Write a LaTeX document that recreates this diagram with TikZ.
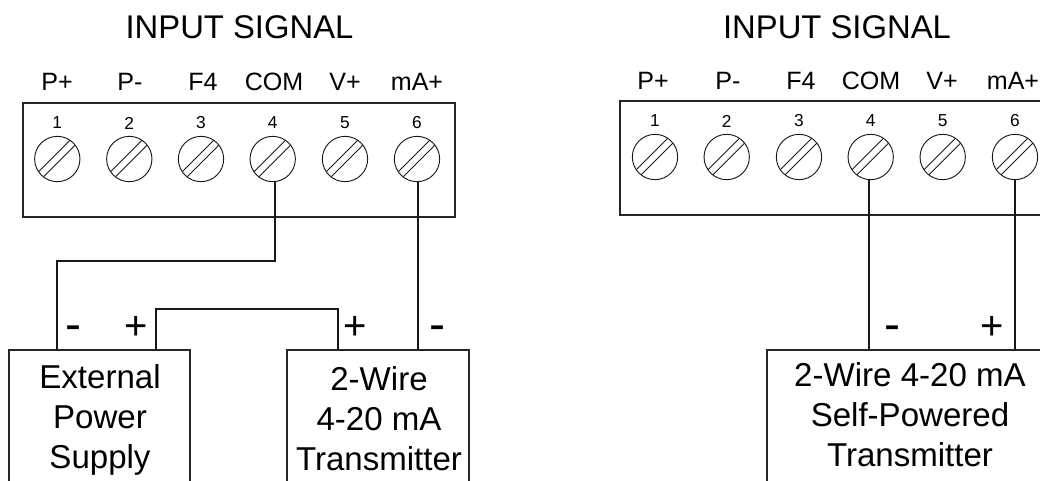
\documentclass[tikz,border=0pt]{standalone}
\usepackage{fontspec}
\setmainfont{Liberation Sans}
\tikzset{
  x=0.75pt,y=-0.75pt,
  every node/.style={inner sep=0pt,outer sep=0pt,text=black},
  title/.style={font=\fontsize{24.6pt}{28pt}\selectfont},
  termlabel/.style={font=\fontsize{18.8pt}{22pt}\selectfont},
  termnum/.style={font=\fontsize{13pt}{15pt}\selectfont},
  devtext/.style={font=\fontsize{24.8pt}{30pt}\selectfont,align=center},
  polarity/.style={font=\fontsize{30pt}{32pt}\selectfont},
  minussign/.style={font=\fontsize{36pt}{38pt}\selectfont},
  panel/.style={draw=black!85,line width=1.6pt,rectangle},
  devbox/.style={draw=black!85,line width=1.6pt,rectangle},
  wire/.style={draw=black!90,line width=0.9pt},
  screw/.style={draw=black!90,line width=0.7pt,circle,minimum size=34pt},
  slot/.style={line width=0.7pt,black!90},
}
\begin{document}
\begin{tikzpicture}
\useasboundingbox (0,0) rectangle (1040,480);
\clip (0,0) rectangle (1040,480);
% left
\node[title] (t1) at (239.5,27.5) {INPUT SIGNAL};
\node[panel,minimum width=324pt,minimum height=85.5pt] (p1) at (239,160) {};
\foreach \n/\x/\lx/\l in {1/57.3/57/P+,2/129.3/130/P-,3/201/203/F4,4/272.7/274/COM,5/345/345/V+,6/417/417/mA+}{
  \node[termlabel] (la\n) at (\lx,82) {\l};
  \node[termnum] (na\n) at (\x,123) {\n};
  \node[screw] (sa\n) at (\x,159) {};
  \begin{scope}
    \clip (\x,159) circle (22.5);
    \draw[slot] (\x-24,159+18) -- (\x+24,159-30);
    \draw[slot] (\x-20,159+24) -- (\x+24,159-20);
  \end{scope}
}
\node[devbox,minimum width=135.75pt,minimum height=120pt] (ps) at (99.5,430) {};
\node[devbox,minimum width=136.5pt,minimum height=120pt] (tx) at (378,430) {};
\node[devtext] (pst) at (100,420) {External\\Power\\Supply};
\node[devtext] (txt) at (379,419) {2-Wire\\4-20 mA\\Transmitter};
\coordinate (w1) at (275,182);
\coordinate (w2) at (418,182);
\coordinate (c1) at (57,261);
\coordinate (c2) at (156,309);
\coordinate (c3) at (338,309);
\draw[wire] (w1) -- (w1 |- c1) -- (c1) -- (c1 |- ps.north);
\draw[wire] (w2) -- (w2 |- tx.north);
\draw[wire] (c2 |- ps.north) -- (c2) -- (c3) -- (c3 |- tx.north);
\node[minussign] (m1) at (73,333) {-};
\node[polarity] (p1p) at (136,328) {+};
\node[polarity] (p2p) at (355,328) {+};
\node[minussign] (m2) at (437,333) {-};
% right
\node[title] (t2) at (837,27.5) {INPUT SIGNAL};
\node[panel,minimum width=324pt,minimum height=85.5pt] (p2) at (836,158) {};
\foreach \n/\x/\lx/\l in {1/655/653/P+,2/726.7/728/P-,3/799/801/F4,4/870.7/871/COM,5/942.7/942/V+,6/1015/1013/mA+}{
  \node[termlabel] (lb\n) at (\lx,81) {\l};
  \node[termnum] (nb\n) at (\x,121) {\n};
  \node[screw] (sb\n) at (\x,157) {};
  \begin{scope}
    \clip (\x,157) circle (22.5);
    \draw[slot] (\x-24,157+18) -- (\x+24,157-30);
    \draw[slot] (\x-20,157+24) -- (\x+24,157-20);
  \end{scope}
}
\node[devbox,minimum width=214.5pt,minimum height=120pt] (sp) at (910,430) {};
\node[devtext] (spt) at (910,415) {2-Wire 4-20 mA\\Self-Powered\\Transmitter};
\coordinate (w3) at (869,180);
\coordinate (w4) at (1015,180);
\draw[wire] (w3) -- (w3 |- sp.north);
\draw[wire] (w4) -- (w4 |- sp.north);
\node[minussign] (m3) at (892,333) {-};
\node[polarity] (p3) at (992,328) {+};
\end{tikzpicture}
\end{document}
